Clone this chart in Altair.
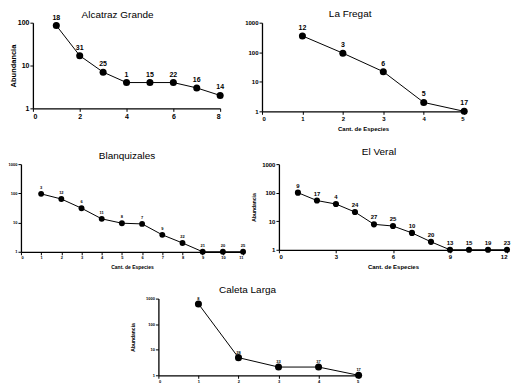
import altair as alt
import pandas as pd

FONT = "Liberation Sans"

# ---- data ----
alc_x = [1, 2, 3, 4, 5, 6, 7, 8]
alc_y = [86, 17, 7, 4, 4, 4, 3, 2]
alc_lab = ["18", "31", "25", "1", "15", "22", "16", "14"]

fre_x = [1, 2, 3, 4, 5]
fre_y = [357, 93, 22, 2, 1]
fre_lab = ["12", "3", "6", "5", "17"]

bla_x = [1, 2, 3, 4, 5, 6, 7, 8, 9, 10, 11]
bla_y = [96, 64, 31, 13.4, 9.5, 9, 3.8, 2, 1, 1, 1]
bla_lab = ["3", "12", "6", "11", "8", "7", "9", "22", "21", "20", "25"]

ver_x = [1, 2, 3, 4, 5, 6, 7, 8, 9, 10, 11, 12]
ver_y = [100, 53, 40, 21, 7.8, 6.8, 3.9, 1.9, 1, 1, 1, 1]
ver_lab = ["9", "17", "4", "24", "27", "25", "10", "20", "13", "15", "19", "23"]

cal_x = [1, 2, 3, 4, 5]
cal_y = [620, 4.9, 2.1, 2.1, 1]
cal_lab = ["8", "28", "33", "37", "17"]


def spacer(w, h):
    return alt.Chart(pd.DataFrame({"a": [0]})).mark_point(opacity=0, size=0).encode(
        x=alt.value(1), y=alt.value(1)
    ).properties(width=w, height=h)


def panel(title, xs, ys, labs, xmax, xticks, ymax, yticks, w, h,
          tick_fs, lab_fs, pt_size, dy, xtitle=None, ytitle=None,
          xtitle_fs=6, ytitle_fs=8, ytitle_pad=4, xtitle_pad=4,
          title_off=8, title_dx=0, bold=True):
    df = pd.DataFrame({"x": xs, "y": ys, "lab": labs})
    xaxis = alt.Axis(values=xticks, format="d", grid=False, domainColor="black",
                     domainWidth=1.3, tickColor="black", tickSize=3, tickWidth=1,
                     labelFontSize=tick_fs, labelFont=FONT, labelPadding=1,
                     labelFontWeight="bold" if bold else "normal",
                     labelColor="black", title=xtitle if xtitle else None,
                     titleFont=FONT, titleFontSize=xtitle_fs, titleFontWeight="bold",
                     titleColor="black", titlePadding=xtitle_pad)
    yaxis = alt.Axis(values=yticks, format="d", grid=False, domainColor="black",
                     domainWidth=1.3, tickColor="black", tickSize=3, tickWidth=1,
                     labelFontSize=tick_fs, labelFont=FONT, labelPadding=1,
                     labelFontWeight="bold" if bold else "normal",
                     labelColor="black", title=ytitle if ytitle else None,
                     titleFont=FONT, titleFontSize=ytitle_fs, titleFontWeight="bold",
                     titleColor="black", titlePadding=ytitle_pad)
    base = alt.Chart(df).encode(
        x=alt.X("x:Q", scale=alt.Scale(domain=[0, xmax], nice=False, zero=False), axis=xaxis),
        y=alt.Y("y:Q", scale=alt.Scale(type="log", domain=[1, ymax], nice=False), axis=yaxis),
    )
    line = base.mark_line(color="black", strokeWidth=1)
    pts = base.mark_circle(color="black", opacity=1, size=pt_size)
    txt = base.mark_text(dy=dy, fontSize=lab_fs, font=FONT,
                         fontWeight="bold" if bold else "normal", color="black").encode(text="lab:N")
    return alt.layer(line, pts, txt).properties(
        width=w, height=h,
        title=alt.TitleParams(title, font=FONT, fontSize=10, fontWeight="normal",
                              color="black", offset=title_off, dx=title_dx, anchor="middle",
                              frame="group", baseline="alphabetic"),
    )


p1 = panel("Alcatraz Grande", alc_x, alc_y, alc_lab, 8, [0, 2, 4, 6, 8], 100, [1, 10, 100],
           188, 86, 7, 7, 50, -8, ytitle="Abundancia", ytitle_fs=7.5, ytitle_pad=0,
           title_off=-14, title_dx=-9)
p2 = panel("La Fregat", fre_x, fre_y, fre_lab, 5, [0, 1, 2, 3, 4, 5], 1000, [1, 10, 100, 1000],
           203, 89, 6, 7, 50, -8, xtitle="Cant. de Especies", xtitle_fs=6, xtitle_pad=4,
           title_off=-7, title_dx=-13)
p3 = panel("Blanquizales", bla_x, bla_y, bla_lab, 11, list(range(12)), 1000, [1, 10, 100, 1000],
           223, 88, 4, 4, 35, -6, xtitle="Cant. de Especies", xtitle_fs=5, xtitle_pad=5,
           title_off=-7, title_dx=-5)
p4 = panel("El Veral", ver_x, ver_y, ver_lab, 12, [0, 3, 6, 9, 12], 1000, [1, 10, 100, 1000],
           229, 86, 6, 6, 38, -7, xtitle="Cant. de Especies", ytitle="Abundancia",
           xtitle_fs=6, ytitle_fs=5, ytitle_pad=5, xtitle_pad=4,
           title_off=-4, title_dx=-14)
p5 = panel("Caleta Larga", cal_x, cal_y, cal_lab, 5, [0, 1, 2, 3, 4, 5], 1000, [1, 10, 100, 1000],
           201, 77, 4, 4, 50, -5, ytitle="Abundancia", ytitle_fs=5, ytitle_pad=10,
           title_off=-6, title_dx=-11)

S1 = 125
S2 = 121
row1 = alt.hconcat(spacer(22, S1), p1, spacer(42, 1), p2, spacing=0, bounds="flush")
row2 = alt.hconcat(spacer(10, S2), p3, spacer(36, 1), p4, spacing=0, bounds="flush")
row3 = alt.hconcat(spacer(148, 1), p5, spacing=0, bounds="flush")

chart = alt.vconcat(row1, row2, row3, spacing=0).properties(
    padding=0, background="white"
).configure_view(stroke=None)

chart.save("out.html", embed_options={"renderer": "svg", "actions": False})
